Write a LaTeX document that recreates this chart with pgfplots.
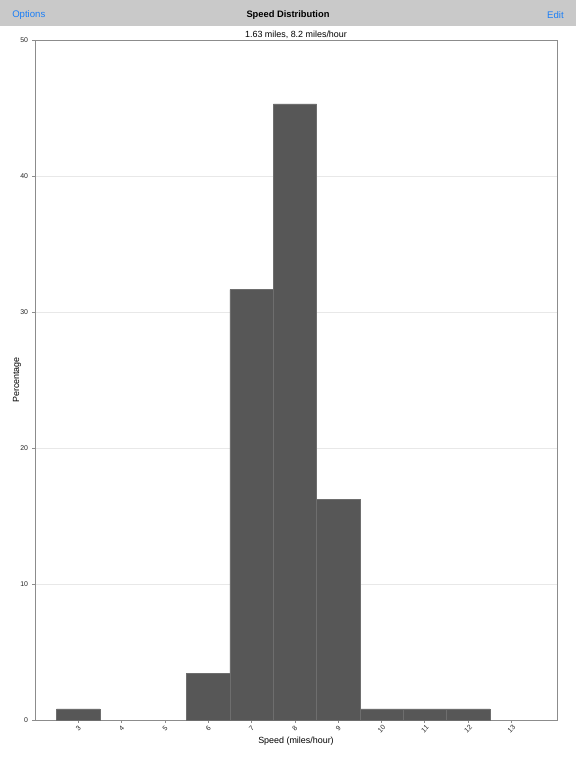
\documentclass[border=0pt]{standalone}
\usepackage{fontspec}
\setmainfont{Liberation Sans}
\usepackage{pgfplots}
\pgfplotsset{compat=1.18}
\definecolor{barfill}{HTML}{575757}
\definecolor{baredge}{HTML}{6E6E6E}
\definecolor{hdr}{HTML}{C9C9C9}
\definecolor{iosblue}{HTML}{1A7EF7}
\definecolor{axgray}{HTML}{8C8C8C}
\definecolor{gridgray}{HTML}{E8E8E8}
\begin{document}
\begin{tikzpicture}
\path[use as bounding box] (-26.25pt,-36pt) rectangle (405.75pt,540pt);
\fill[white] (-26.25pt,-36pt) rectangle (405.75pt,540pt);
\fill[hdr] (-26.25pt,520.5pt) rectangle (405.75pt,540pt);
\node[anchor=west,text=iosblue,font=\fontsize{7.2}{8}\selectfont,inner sep=0pt] at (-17.25pt,528.9pt) {Options};
\node[anchor=center,font=\bfseries\fontsize{7}{8}\selectfont,inner sep=0pt] at (189.75pt,528.9pt) {Speed Distribution};
\node[anchor=east,text=iosblue,font=\fontsize{7.2}{8}\selectfont,inner sep=0pt] at (396.75pt,528.9pt) {Edit};
\begin{axis}[
  at={(0pt,0pt)}, anchor=south west,
  scale only axis, width=391.5pt, height=510pt,
  xmin=2, xmax=14.05, ymin=0, ymax=50,
  ybar, bar width=1, bar shift=0pt,
  xtick={3,...,13}, ytick={0,10,...,50},
  ymajorgrids, major grid style={gridgray, line width=0.5pt},
  axis line style={axgray, line width=0.7pt},
  tick style={axgray, line width=0.6pt},
  tick align=outside, major tick length=2.2pt,
  xtick pos=bottom, ytick pos=left,
  tick label style={font=\fontsize{5.2}{6}\selectfont, text=black!85},
  /pgf/number format/assume math mode=true,
  xticklabel style={yshift=-4.5pt, rotate=45, anchor=center},
  yticklabel style={xshift=0.5pt},
  title={1.63 miles, 8.2 miles/hour},
  title style={at={(axis description cs:0.5,0.9956)}, anchor=center, font=\fontsize{6.7}{8}\selectfont},
  xlabel={Speed (miles/hour)},
  xlabel style={at={(axis description cs:0.5,-0.0309)}, anchor=center, font=\fontsize{6.7}{8}\selectfont},
  ylabel={Percentage},
  ylabel style={at={(axis description cs:-0.0345,0.5)}, anchor=center, font=\fontsize{6.7}{8}\selectfont},
]
\addplot[fill=barfill, draw=baredge, line width=0.4pt] coordinates {
  (3,0.82) (6,3.43) (7,31.64) (8,45.3) (9,16.25) (10,0.82) (11,0.82) (12,0.82)
};
\end{axis}
\end{tikzpicture}
\end{document}
